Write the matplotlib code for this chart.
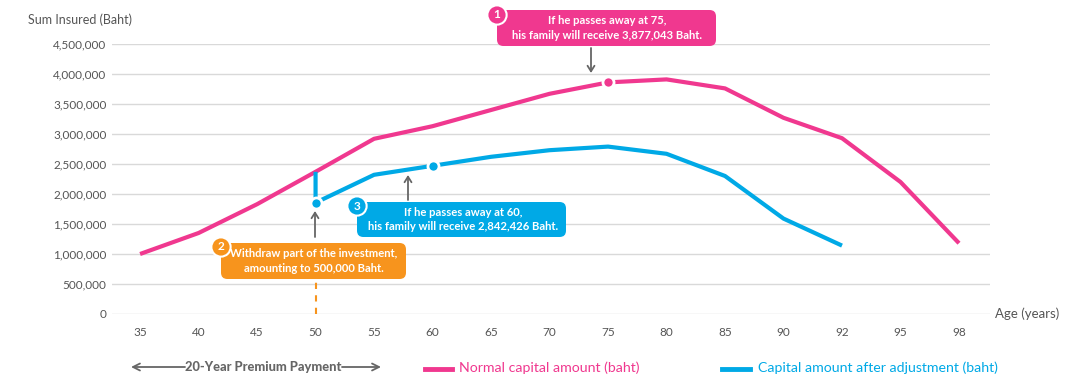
import matplotlib.pyplot as plt
from matplotlib.patches import FancyBboxPatch
from matplotlib.ticker import FuncFormatter

# chart data
ages = ['35', '40', '45', '50', '55', '60', '65', '70', '75', '80', '85', '90', '92', '95', '98']
normal = [1000000, 1350000, 1830000, 2370000, 2920000, 3130000, 3400000, 3670000,
          3860000, 3910000, 3760000, 3270000, 2930000, 2200000, 1180000]
# adjusted capital starts at age 50 (index 3): value before and after withdrawal
adj_idx = [3, 3, 4, 5, 6, 7, 8, 9, 10, 11, 12]
adjusted = [2370000, 1855000, 2320000, 2470000, 2620000, 2730000, 2790000,
            2670000, 2300000, 1590000, 1140000]
yticks = [0, 500000, 1000000, 1500000, 2000000, 2500000, 3000000, 3500000, 4000000, 4500000]

PINK = '#F0388F'
BLUE = '#00A9E6'
ORANGE = '#F7941D'
GRAY = '#555555'

W, H = 1067, 389
plt.rcParams['font.family'] = ['Lato', 'DejaVu Sans']


def fx(x):
    return x / W


def fy(y):
    return 1 - y / H


fig = plt.figure(figsize=(W / 100, H / 100), dpi=100)
ax = fig.add_axes([fx(112), fy(314), (990 - 112) / W, (314 - 44) / H])

xs = list(range(len(ages)))
ax.plot(xs, normal, color=PINK, lw=3, solid_capstyle='butt', zorder=3)
ax.plot(adj_idx, adjusted, color=BLUE, lw=3, solid_capstyle='butt', zorder=3)

# highlighted points
ax.plot([8], [normal[8]], 'o', ms=8, color=PINK, mec='white', mew=2, zorder=4)
ax.plot([adj_idx[1], adj_idx[3]], [adjusted[1], adjusted[3]], 'o', ms=8,
        color=BLUE, mec='white', mew=2, zorder=4)

# dashed withdrawal marker
ax.plot([3, 3], [0, 530000], color=ORANGE, lw=1.5, ls=(0, (3, 3)), zorder=2)

ax.set_xlim(-0.48, 14.53)
ax.set_ylim(0, 4500000)
ax.set_xticks(xs)
ax.set_xticklabels(ages)
ax.set_yticks(yticks)
ax.yaxis.set_major_formatter(FuncFormatter(lambda v, p: f'{int(v):,}'))
ax.tick_params(length=0, labelsize=8.5, colors=GRAY)
ax.tick_params(axis='x', pad=9)
ax.tick_params(axis='y', pad=4)
ax.grid(axis='y', color='#d9d9d9', lw=1)
ax.set_axisbelow(True)
for s in ax.spines.values():
    s.set_visible(False)

fig.text(fx(28), fy(20), 'Sum Insured (Baht)', fontsize=9, color=GRAY, va='center', ha='left')
fig.text(fx(995), fy(314), 'Age (years)', fontsize=9.5, color=GRAY, va='center', ha='left')


def box(x0, y0, x1, y1, color):
    p = FancyBboxPatch((fx(x0), fy(y1)), fx(x1) - fx(x0), fy(y0) - fy(y1),
                       boxstyle='round,pad=0,rounding_size=0.006', transform=fig.transFigure,
                       fc=color, ec='none', mutation_aspect=W / H, zorder=5)
    fig.add_artist(p)


def label(cx, cy, text, num, nx, ny, color):
    fig.text(fx(cx), fy(cy), text, fontsize=8.1, color='white', fontweight='bold',
             ha='center', va='center', linespacing=1.4, zorder=6)
    fig.text(fx(nx), fy(ny), str(num), fontsize=8.5, color='white', fontweight='bold',
             ha='center', va='center', zorder=7,
             bbox=dict(boxstyle='circle,pad=0.35', fc=color, ec='white', lw=1.5))


def arrow(x, y0, y1):
    ax.annotate('', xy=(fx(x), fy(y1)), xytext=(fx(x), fy(y0)), xycoords='figure fraction',
                textcoords='figure fraction',
                arrowprops=dict(arrowstyle='->,head_length=0.4,head_width=0.25',
                                color='#666666', lw=1.3, shrinkA=0, shrinkB=0))


box(497, 10, 716, 46, PINK)
label(607, 28, 'If he passes away at 75,\nhis family will receive 3,877,043 Baht.', 1, 497, 15, PINK)
arrow(591, 48, 73)

box(221, 243, 406, 279, ORANGE)
label(314, 261, 'Withdraw part of the investment,\namounting to 500,000 Baht.', 2, 221, 247, ORANGE)
arrow(315, 237, 211)

box(357, 202, 566, 237, BLUE)
label(463, 219.5, 'If he passes away at 60,\nhis family will receive 2,842,426 Baht.', 3, 357, 206, BLUE)
arrow(408, 200, 175)

# premium payment period
fig.text(fx(263.5), fy(367), '20-Year Premium Payment', fontsize=9.3, fontweight='black',
         color='#666666', ha='center', va='center')
for a, b in [(185, 131), (342, 381)]:
    ax.annotate('', xy=(fx(b), fy(367)), xytext=(fx(a), fy(367)), xycoords='figure fraction',
                textcoords='figure fraction',
                arrowprops=dict(arrowstyle='->,head_length=0.5,head_width=0.25',
                                color='#666666', lw=1.3, shrinkA=0, shrinkB=0))

# legend
fig.add_artist(plt.Line2D([fx(425), fx(452)], [fy(369), fy(369)], color=PINK, lw=3.5))
fig.text(fx(459), fy(368), 'Normal capital amount (baht)', fontsize=10.2, color=PINK,
         ha='left', va='center')
fig.add_artist(plt.Line2D([fx(722), fx(750)], [fy(369), fy(369)], color=BLUE, lw=3.5))
fig.text(fx(758), fy(368), 'Capital amount after adjustment (baht)', fontsize=10.2, color=BLUE,
         ha='left', va='center')

fig.savefig('out.png', dpi=100)
